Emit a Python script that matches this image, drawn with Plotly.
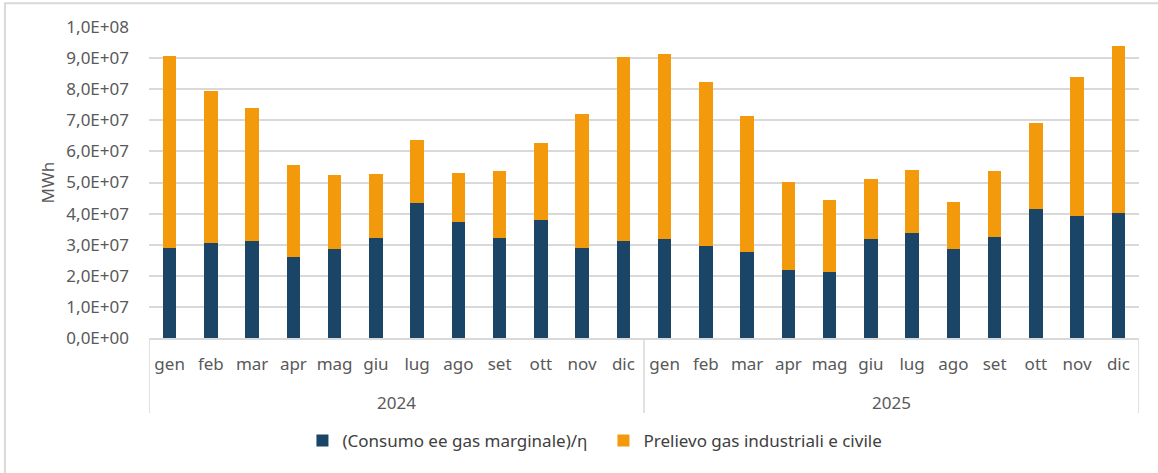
import plotly.graph_objects as go

# values in millions of MWh
years = ["2024", "2025"]
months = ["gen", "feb", "mar", "apr", "mag", "giu",
          "lug", "ago", "set", "ott", "nov", "dic"]

consumo_ee = [28.9, 30.5, 31.2, 26.2, 28.6, 32.3, 43.3, 37.2, 32.2, 38.0, 28.9, 31.2,
              31.9, 29.5, 27.5, 21.8, 21.2, 31.9, 33.9, 28.6, 32.5, 41.6, 39.2, 40.3]
totale = [90.8, 79.5, 74.0, 55.6, 52.3, 52.6, 63.6, 53.0, 53.6, 62.6, 72.0, 90.4,
          91.2, 82.2, 71.3, 50.3, 44.3, 51.2, 53.9, 43.6, 53.6, 69.0, 83.8, 93.8]
prelievo = [round(t - c, 1) for t, c in zip(totale, consumo_ee)]

tick_vals = [i * 1e7 for i in range(11)]
tick_text = ["0,0E+00", "1,0E+07", "2,0E+07", "3,0E+07", "4,0E+07", "5,0E+07",
             "6,0E+07", "7,0E+07", "8,0E+07", "9,0E+07", "1,0E+08"]

BLUE = "#1a4566"
ORANGE = "#f39a0c"
GREY_TXT = "#595959"
GRID = "#d9d9d9"
FONT = "Noto Sans"

n_months = len(months)
x = list(range(n_months * len(years)))
month_labels = months * len(years)

fig = go.Figure()
fig.add_trace(go.Bar(
    x=x, y=[v * 1e6 for v in consumo_ee],
    name="(Consumo ee gas marginale)/η",
    marker=dict(color=BLUE, line=dict(width=0)),
))
fig.add_trace(go.Bar(
    x=x, y=[v * 1e6 for v in prelievo],
    name="Prelievo gas industriali e civile",
    marker=dict(color=ORANGE, line=dict(width=0)),
))

# Excel-style two level category axis: year labels and group dividers
annotations = []
shapes = []
for i, yr in enumerate(years):
    annotations.append(dict(
        x=i * n_months + (n_months - 1) / 2, y=-0.209,
        xref="x", yref="paper", text=yr, showarrow=False,
        font=dict(family=FONT, size=17, color=GREY_TXT),
        xanchor="center", yanchor="middle",
    ))
for b in range(len(years) + 1):
    shapes.append(dict(
        type="line", xref="x", yref="paper",
        x0=b * n_months - 0.5, x1=b * n_months - 0.5, y0=0, y1=-0.241,
        line=dict(color=GRID, width=1.5),
    ))

annotations.append(dict(
    x=-0.103, y=0.5, xref="paper", yref="paper", text="MWh",
    textangle=-90, showarrow=False,
    font=dict(family=FONT, size=17, color=GREY_TXT),
    xanchor="center", yanchor="middle",
))

# outer chart border
shapes.append(dict(
    type="rect", xref="paper", yref="paper",
    x0=-0.1455, x1=1.05, y0=-0.45, y1=1.076,
    line=dict(color=GRID, width=2), layer="below",
))

fig.update_layout(
    barmode="stack",
    bargap=0.677,
    width=1158,
    height=473,
    margin=dict(l=149, r=19, t=27, b=135),
    paper_bgcolor="white",
    plot_bgcolor="white",
    font=dict(family=FONT, size=17, color=GREY_TXT),
    legend=dict(
        orientation="h",
        x=0.155, xanchor="left",
        y=-0.331, yanchor="middle",
        font=dict(family=FONT, size=17, color="#404040"),
        traceorder="normal",
        entrywidth=256, entrywidthmode="pixels",
    ),
    annotations=annotations,
    shapes=shapes,
)

fig.update_xaxes(
    range=[-0.5, len(x) - 0.5],
    tickmode="array", tickvals=x, ticktext=month_labels,
    showline=True, linecolor=GRID, linewidth=1.5,
    showgrid=False, zeroline=False,
    ticks="", ticklabelstandoff=10,
    tickfont=dict(family=FONT, size=17, color=GREY_TXT),
    automargin=False,
)
fig.update_yaxes(
    range=[0, 1e8],
    tickmode="array", tickvals=tick_vals, ticktext=tick_text,
    showgrid=True, gridcolor=GRID, gridwidth=1.5,
    zeroline=False, showline=False,
    tickfont=dict(family=FONT, size=17, color=GREY_TXT),
    ticklabelstandoff=19,
    automargin=False,
)

# drop the default 8px page margin so the figure sits at the window origin
fig.write_html(
    "out.html",
    config={"displayModeBar": False},
    post_script="document.body.style.margin = '0';",
)
